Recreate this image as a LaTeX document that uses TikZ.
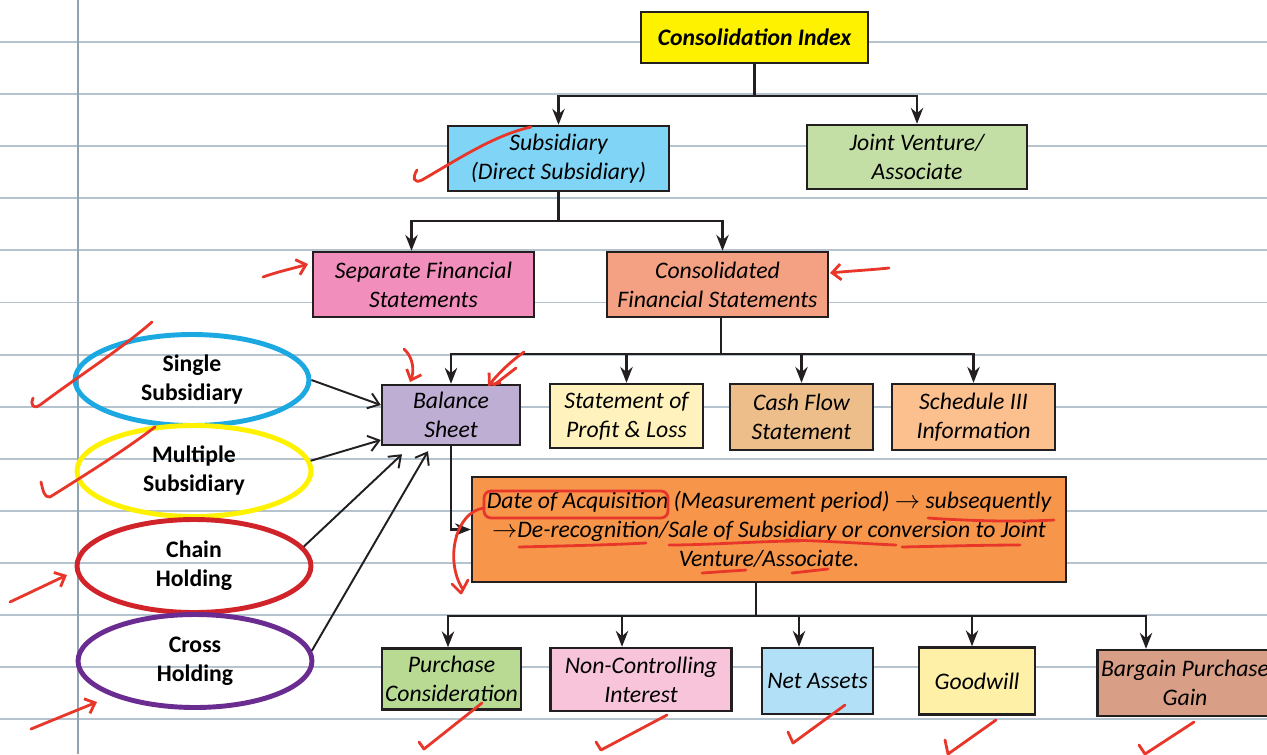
\documentclass[tikz,border=0pt]{standalone}
\usepackage{fontspec}
\setmainfont{Carlito}
\usetikzlibrary{arrows.meta,shapes.geometric}

\definecolor{ink}{HTML}{231F20}
\definecolor{rule}{HTML}{B4C3CD}
\definecolor{margin}{HTML}{8FA3B0}
\definecolor{redpen}{HTML}{E8372A}
\definecolor{ciyellow}{HTML}{FFF200}
\definecolor{subblue}{HTML}{80D4F6}
\definecolor{jvgreen}{HTML}{C4DFA5}
\definecolor{seppink}{HTML}{F28EBB}
\definecolor{cfssalmon}{HTML}{F4A183}
\definecolor{bslav}{HTML}{BFAED4}
\definecolor{plcream}{HTML}{FFF2BD}
\definecolor{cftan}{HTML}{EDBE8A}
\definecolor{schpeach}{HTML}{FCC08E}
\definecolor{doaorange}{HTML}{F7964A}
\definecolor{pcgreen}{HTML}{B8DA93}
\definecolor{ncipink}{HTML}{F7C4DA}
\definecolor{nablue}{HTML}{B2E1F7}
\definecolor{gwyellow}{HTML}{FFF0A8}
\definecolor{bpgbrown}{HTML}{D89E86}
\definecolor{ovblue}{HTML}{1CA9E1}
\definecolor{ovyellow}{HTML}{FFF200}
\definecolor{ovred}{HTML}{D1232A}
\definecolor{ovpurple}{HTML}{6B2C91}

\begin{document}
\begin{tikzpicture}[x=0.02cm,y=-0.02cm,
    box/.style={draw=ink,line width=1.4pt,align=center,inner sep=1pt,
      font=\itshape\fontsize{13.5}{16.5}\selectfont},
    oval/.style={ellipse,line width=2.8pt,minimum width=4.68cm,minimum height=1.82cm,
      align=center,inner sep=0pt,font=\bfseries\fontsize{13.5}{16.5}\selectfont},
    wire/.style={draw=ink,line width=1.4pt},
    link/.style={wire,-{Stealth[length=9pt,width=7pt]}},
    feed/.style={draw=ink,line width=1.1pt,-{Straight Barb[length=6pt,width=9pt]}},
    pen/.style={draw=redpen,line width=1.6pt,line cap=round,line join=round},
    penarrow/.style={pen,-{Straight Barb[length=5pt,width=9pt]}}]
  % paper
  \useasboundingbox[fill=white] (0,0) rectangle (1267,754);
  \foreach \k in {0,...,13}
    \draw[rule,line width=1.1pt] (0,42+52.1*\k) -- (1267,42+52.1*\k);
  \draw[margin,line width=1.2pt] (78,0) -- (78,754);

  % top levels
  \node[box,fill=ciyellow,minimum width=4.54cm,minimum height=1.02cm,
    font=\bfseries\itshape\fontsize{13.5}{16.5}\selectfont] (ci) at (754.5,37.5) {Consolidation Index};
  \node[box,fill=subblue,minimum width=4.42cm,minimum height=1.3cm] (sub) at (558.5,158.5) {Subsidiary\\(Direct Subsidiary)};
  \node[box,fill=jvgreen,minimum width=4.4cm,minimum height=1.28cm] (jv) at (917,157) {Joint Venture/\\Associate};
  \node[box,fill=seppink,minimum width=4.42cm,minimum height=1.3cm] (sep) at (423.5,284.5) {Separate Financial\\Statements};
  \node[box,fill=cfssalmon,minimum width=4.42cm,minimum height=1.3cm] (cfs) at (717.5,284.5) {Consolidated\\Financial Statements};

  % statements
  \node[box,fill=bslav,minimum width=2.76cm,minimum height=1.2cm] (bs) at (451,415) {Balance\\Sheet};
  \node[box,fill=plcream,minimum width=3.06cm,minimum height=1.28cm] (pl) at (626.5,416) {Statement of\\Profit \& Loss};
  \node[box,fill=cftan,minimum width=2.86cm,minimum height=1.32cm] (cf) at (801.5,417) {Cash Flow\\Statement};
  \node[box,fill=schpeach,minimum width=3.26cm,minimum height=1.32cm] (sch) at (973.5,417) {Schedule III\\Information};
  \node[box,fill=doaorange,minimum width=11.88cm,minimum height=2.1cm] (doa) at (769,529.5)
    {Date of Acquisition (Measurement period) $\rightarrow$ subsequently\\
     $\rightarrow$De-recognition/Sale of Subsidiary or conversion to Joint\\
     Venture/Associate.};

  % items
  \node[box,fill=pcgreen,minimum width=2.78cm,minimum height=1.22cm] (pc) at (451.5,679) {Purchase\\Consideration};
  \node[box,fill=ncipink,minimum width=3.62cm,minimum height=1.26cm] (nci) at (641,679.5) {Non-Controlling\\Interest};
  \node[box,fill=nablue,minimum width=2.22cm,minimum height=1.32cm] (na) at (817.5,681) {Net Assets};
  \node[box,fill=gwyellow,minimum width=2.32cm,minimum height=1.34cm] (gw) at (977,681) {Goodwill};
  \node[box,fill=bpgbrown,minimum width=3.5cm,minimum height=1.32cm] (bpg) at (1185,683) {Bargain Purchase\\Gain};

  % holding types
  \node[oval,draw=ovblue] (ss) at (192,380) {Single\\Subsidiary};
  \node[oval,draw=ovyellow] (ms) at (194,471) {Multiple\\Subsidiary};
  \node[oval,draw=ovred,minimum height=1.86cm] (ch) at (194,566) {Chain\\Holding};
  \node[oval,draw=ovpurple,minimum height=1.86cm] (cr) at (195,661) {Cross\\Holding};

  % tree
  \draw[wire] (ci.south) -- ++(0,32) coordinate (b1);
  \draw[link] (b1) -| (sub.north);
  \draw[link] (b1) -| (jv.north);
  \draw[wire] (sub.south) -- ++(0,29) coordinate (b2);
  \draw[link] (b2) -| ([xshift=-0.24cm]sep.north);
  \draw[link] (b2) -| ([xshift=0.1cm]cfs.north);
  \draw[wire] ([xshift=0.07cm]cfs.south) -- ++(0,36) coordinate (b3);
  \foreach \n in {bs,pl,cf,sch}
    \draw[link] (b3) -| (\n.north);
  \draw[link] (bs.south) |- (doa.west);
  \draw[wire] ([xshift=-0.26cm]doa.south) -- ++(0,33) coordinate (b4);
  \draw[link] (b4) -| ([xshift=-0.07cm]pc.north);
  \draw[link] (b4) -| ([xshift=-0.38cm]nci.north);
  \draw[link] (b4) -| ([xshift=-0.37cm]na.north);
  \draw[link] (b4) -| ([xshift=-0.1cm]gw.north);
  \draw[link] (b4) -| ([xshift=-0.78cm]bpg.north);

  % into balance sheet
  \draw[feed] (ss.east) -- ([yshift=0.2cm]bs.west);
  \draw[feed] (ms.5) -- ([yshift=-0.5cm]bs.west);
  \draw[feed] (ch.10) -- ([shift={(-0.98cm,-0.16cm)}]bs.south);
  \draw[feed] (cr.5) -- ([shift={(-0.46cm,-0.1cm)}]bs.south);

  % red pen
  \draw[pen] (417,170) .. controls (412,178) and (414,184) .. (422,180) .. controls (460,158) and (495,135) .. (531,127);
  \draw[penarrow] (263,277) .. controls (280,271) and (295,268) .. (308,264);
  \draw[penarrow] (889,268) .. controls (870,270) and (850,271) .. (830,273);
  \draw[pen] (33,398) .. controls (30,404) and (33,410) .. (40,405) .. controls (80,375) and (120,350) .. (152,322);
  \draw[pen] (41,482) .. controls (43,490) and (44,498) .. (50,497) .. controls (85,475) and (125,450) .. (155,427);
  \draw[penarrow] (10,602) -- (67,575);
  \draw[penarrow] (31,729) -- (97,702);
  \draw[penarrow] (404,349) .. controls (414,358) and (414,372) .. (410,382);
  \draw[penarrow] (524,352) .. controls (510,362) and (500,372) .. (488,386);
  \draw[pen] (516,368) -- (494,385);
  \draw[pen,rounded corners=4pt] (484,491) rectangle (668,518);
  \draw[pen] (484,508) .. controls (455,512) and (445,560) .. (462,588);
  \draw[pen] (452,584) -- (461,593) -- (468,580);
  \draw[pen] (928,518) .. controls (970,521) and (1020,522) .. (1054,520);
  \draw[pen] (519,547) .. controls (560,546) and (610,545) .. (646,543);
  \draw[pen] (669,545) .. controls (710,545) and (760,541) .. (800,541);
  \draw[pen] (786,540) .. controls (830,541) and (870,544) .. (896,545);
  \draw[pen] (902,547) .. controls (950,546) and (990,545) .. (1020,545);
  \draw[pen] (702,573) -- (746,570);
  \draw[pen] (792,573) -- (828,569);
  \foreach \a/\b/\c/\d/\e/\f in {419/742/424/749/482/703, 596/742/601/750/667/715,
      788/732/793/743/845/705, 945/740/948/754/996/720, 1139/745/1145/754/1194/722}
    \draw[pen] (\a,\b) -- (\c,\d) -- (\e,\f);
\end{tikzpicture}
\end{document}
